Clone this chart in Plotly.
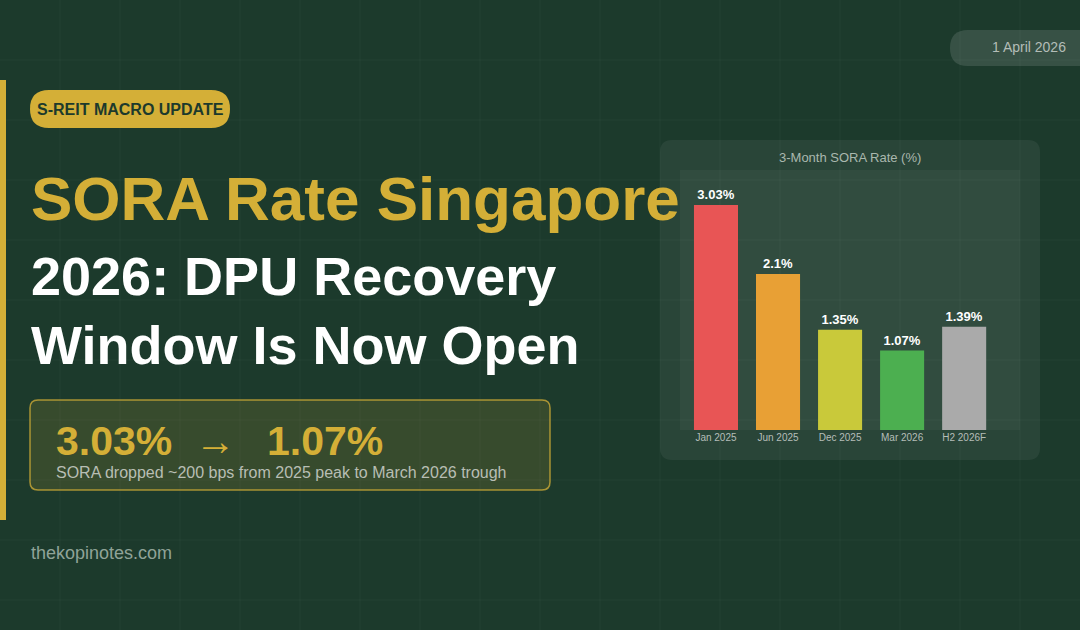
import plotly.graph_objects as go

W, H = 1080, 630
FONT = "Liberation Sans, Arial, Helvetica, sans-serif"
BG = "#1c3a2c"
GOLD = "#d4af37"

# chart data
periods = ["Jan 2025", "Jun 2025", "Dec 2025", "Mar 2026", "H2 2026F"]
sora_rate = [3.03, 2.1, 1.35, 1.07, 1.39]
bar_colors = ["#e85555", "#e8a035", "#c9c93a", "#4caf50", "#aaaaaa"]

# text
badge_text = "S-REIT MACRO UPDATE"
title_lines = ["SORA Rate Singapore", "2026: DPU Recovery", "Window Is Now Open"]
peak_value = "3.03%"
trough_value = "1.07%"
summary_text = "SORA dropped ~200 bps from 2025 peak to March 2026 trough"
date_text = "1 April 2026"
site_text = "thekopinotes.com"
chart_title = "3-Month SORA Rate (%)"


def px(x):
    return x / W


def py(y):
    return 1 - y / H


def rrect(x0, y0, x1, y1, r):
    return (
        f"M {px(x0 + r)},{py(y0)} L {px(x1 - r)},{py(y0)} "
        f"Q {px(x1)},{py(y0)} {px(x1)},{py(y0 + r)} L {px(x1)},{py(y1 - r)} "
        f"Q {px(x1)},{py(y1)} {px(x1 - r)},{py(y1)} L {px(x0 + r)},{py(y1)} "
        f"Q {px(x0)},{py(y1)} {px(x0)},{py(y1 - r)} L {px(x0)},{py(y0 + r)} "
        f"Q {px(x0)},{py(y0)} {px(x0 + r)},{py(y0)} Z"
    )


def note(text, x, y, size, color, anchor="left"):
    return dict(
        text=text, x=px(x), y=py(y), xref="paper", yref="paper",
        xanchor=anchor, yanchor="middle", showarrow=False,
        font=dict(family=FONT, size=size, color=color),
    )


shapes = []
# faint background grid
for gx in range(60, W, 60):
    shapes.append(dict(type="line", xref="paper", yref="paper", layer="below",
                       x0=px(gx), x1=px(gx), y0=0, y1=1,
                       line=dict(color="rgba(255,255,255,0.035)", width=1)))
for gy in range(60, H, 60):
    shapes.append(dict(type="line", xref="paper", yref="paper", layer="below",
                       x0=0, x1=1, y0=py(gy), y1=py(gy),
                       line=dict(color="rgba(255,255,255,0.035)", width=1)))

# left accent bar
shapes.append(dict(type="rect", xref="paper", yref="paper", layer="below",
                   x0=0, x1=px(6), y0=py(520), y1=py(80),
                   fillcolor=GOLD, line=dict(width=0)))
# date pill
shapes.append(dict(type="path", xref="paper", yref="paper", layer="below",
                   path=rrect(950, 30, 1120, 66, 18),
                   fillcolor="rgba(255,255,255,0.12)", line=dict(width=0)))
# badge
shapes.append(dict(type="path", xref="paper", yref="paper", layer="below",
                   path=rrect(30, 90, 230, 128, 19),
                   fillcolor=GOLD, line=dict(width=0)))
# summary box
shapes.append(dict(type="path", xref="paper", yref="paper", layer="below",
                   path=rrect(30, 400, 550, 490, 8),
                   fillcolor="rgba(212,175,55,0.15)",
                   line=dict(color="rgba(212,175,55,0.75)", width=1.5)))
# chart panel and plot area
shapes.append(dict(type="path", xref="paper", yref="paper", layer="below",
                   path=rrect(660, 140, 1040, 460, 12),
                   fillcolor="rgba(255,255,255,0.06)", line=dict(width=0)))
shapes.append(dict(type="rect", xref="paper", yref="paper", layer="below",
                   x0=px(680), x1=px(1020), y0=py(430), y1=py(170),
                   fillcolor="rgba(255,255,255,0.04)", line=dict(width=0)))

arrow = "\u00a0\u00a0\u2192\u2009\u00a0\u00a0"
annotations = [
    note(date_text, 1068, 47.5, 14, "#b3bdb7", anchor="right"),
    note(f"<b>{badge_text}</b>", 35, 109, 16, BG),
    note(f"<b>{title_lines[0]}</b>", 29, 198, 62, GOLD),
    note(f"<b>{title_lines[1]}</b>", 29, 276, 54, "#ffffff"),
    note(f"<b>{title_lines[2]}</b>", 29, 345, 54, "#ffffff"),
    note(f"<b>{peak_value}</b>{arrow}<b>{trough_value}</b>", 54, 440.5, 41, GOLD),
    note(summary_text, 54, 472, 16, "#b8beb4"),
    note(site_text, 29, 553, 18, "#8fa398"),
    note(chart_title, 850, 157, 13, "#a9b8ae", anchor="center"),
]

fig = go.Figure(go.Bar(
    x=periods, y=sora_rate,
    marker=dict(color=bar_colors, line=dict(width=0)),
    texttemplate="%{y}%", textposition="outside", cliponaxis=False,
    textfont=dict(family=FONT, size=13, color="#ffffff", weight="bold"),
    hoverinfo="skip",
))

fig.update_layout(
    width=W, height=H,
    margin=dict(l=0, r=0, t=0, b=0),
    paper_bgcolor=BG, plot_bgcolor="rgba(0,0,0,0)",
    showlegend=False, bargap=0.29,
    shapes=shapes, annotations=annotations,
    xaxis=dict(domain=[px(680), px(1020)], range=[-0.58, 4.9], showgrid=False,
               zeroline=False, showline=False, ticks="", fixedrange=True,
               tickfont=dict(family=FONT, size=10, color="#b5bdb8")),
    yaxis=dict(domain=[py(430), py(170)], range=[0, 3.5], visible=False,
               fixedrange=True),
)

# drop the default page margin so the figure fills the window
fig.write_html("out.html", config={"displayModeBar": False},
               post_script="document.body.style.margin='0';")
